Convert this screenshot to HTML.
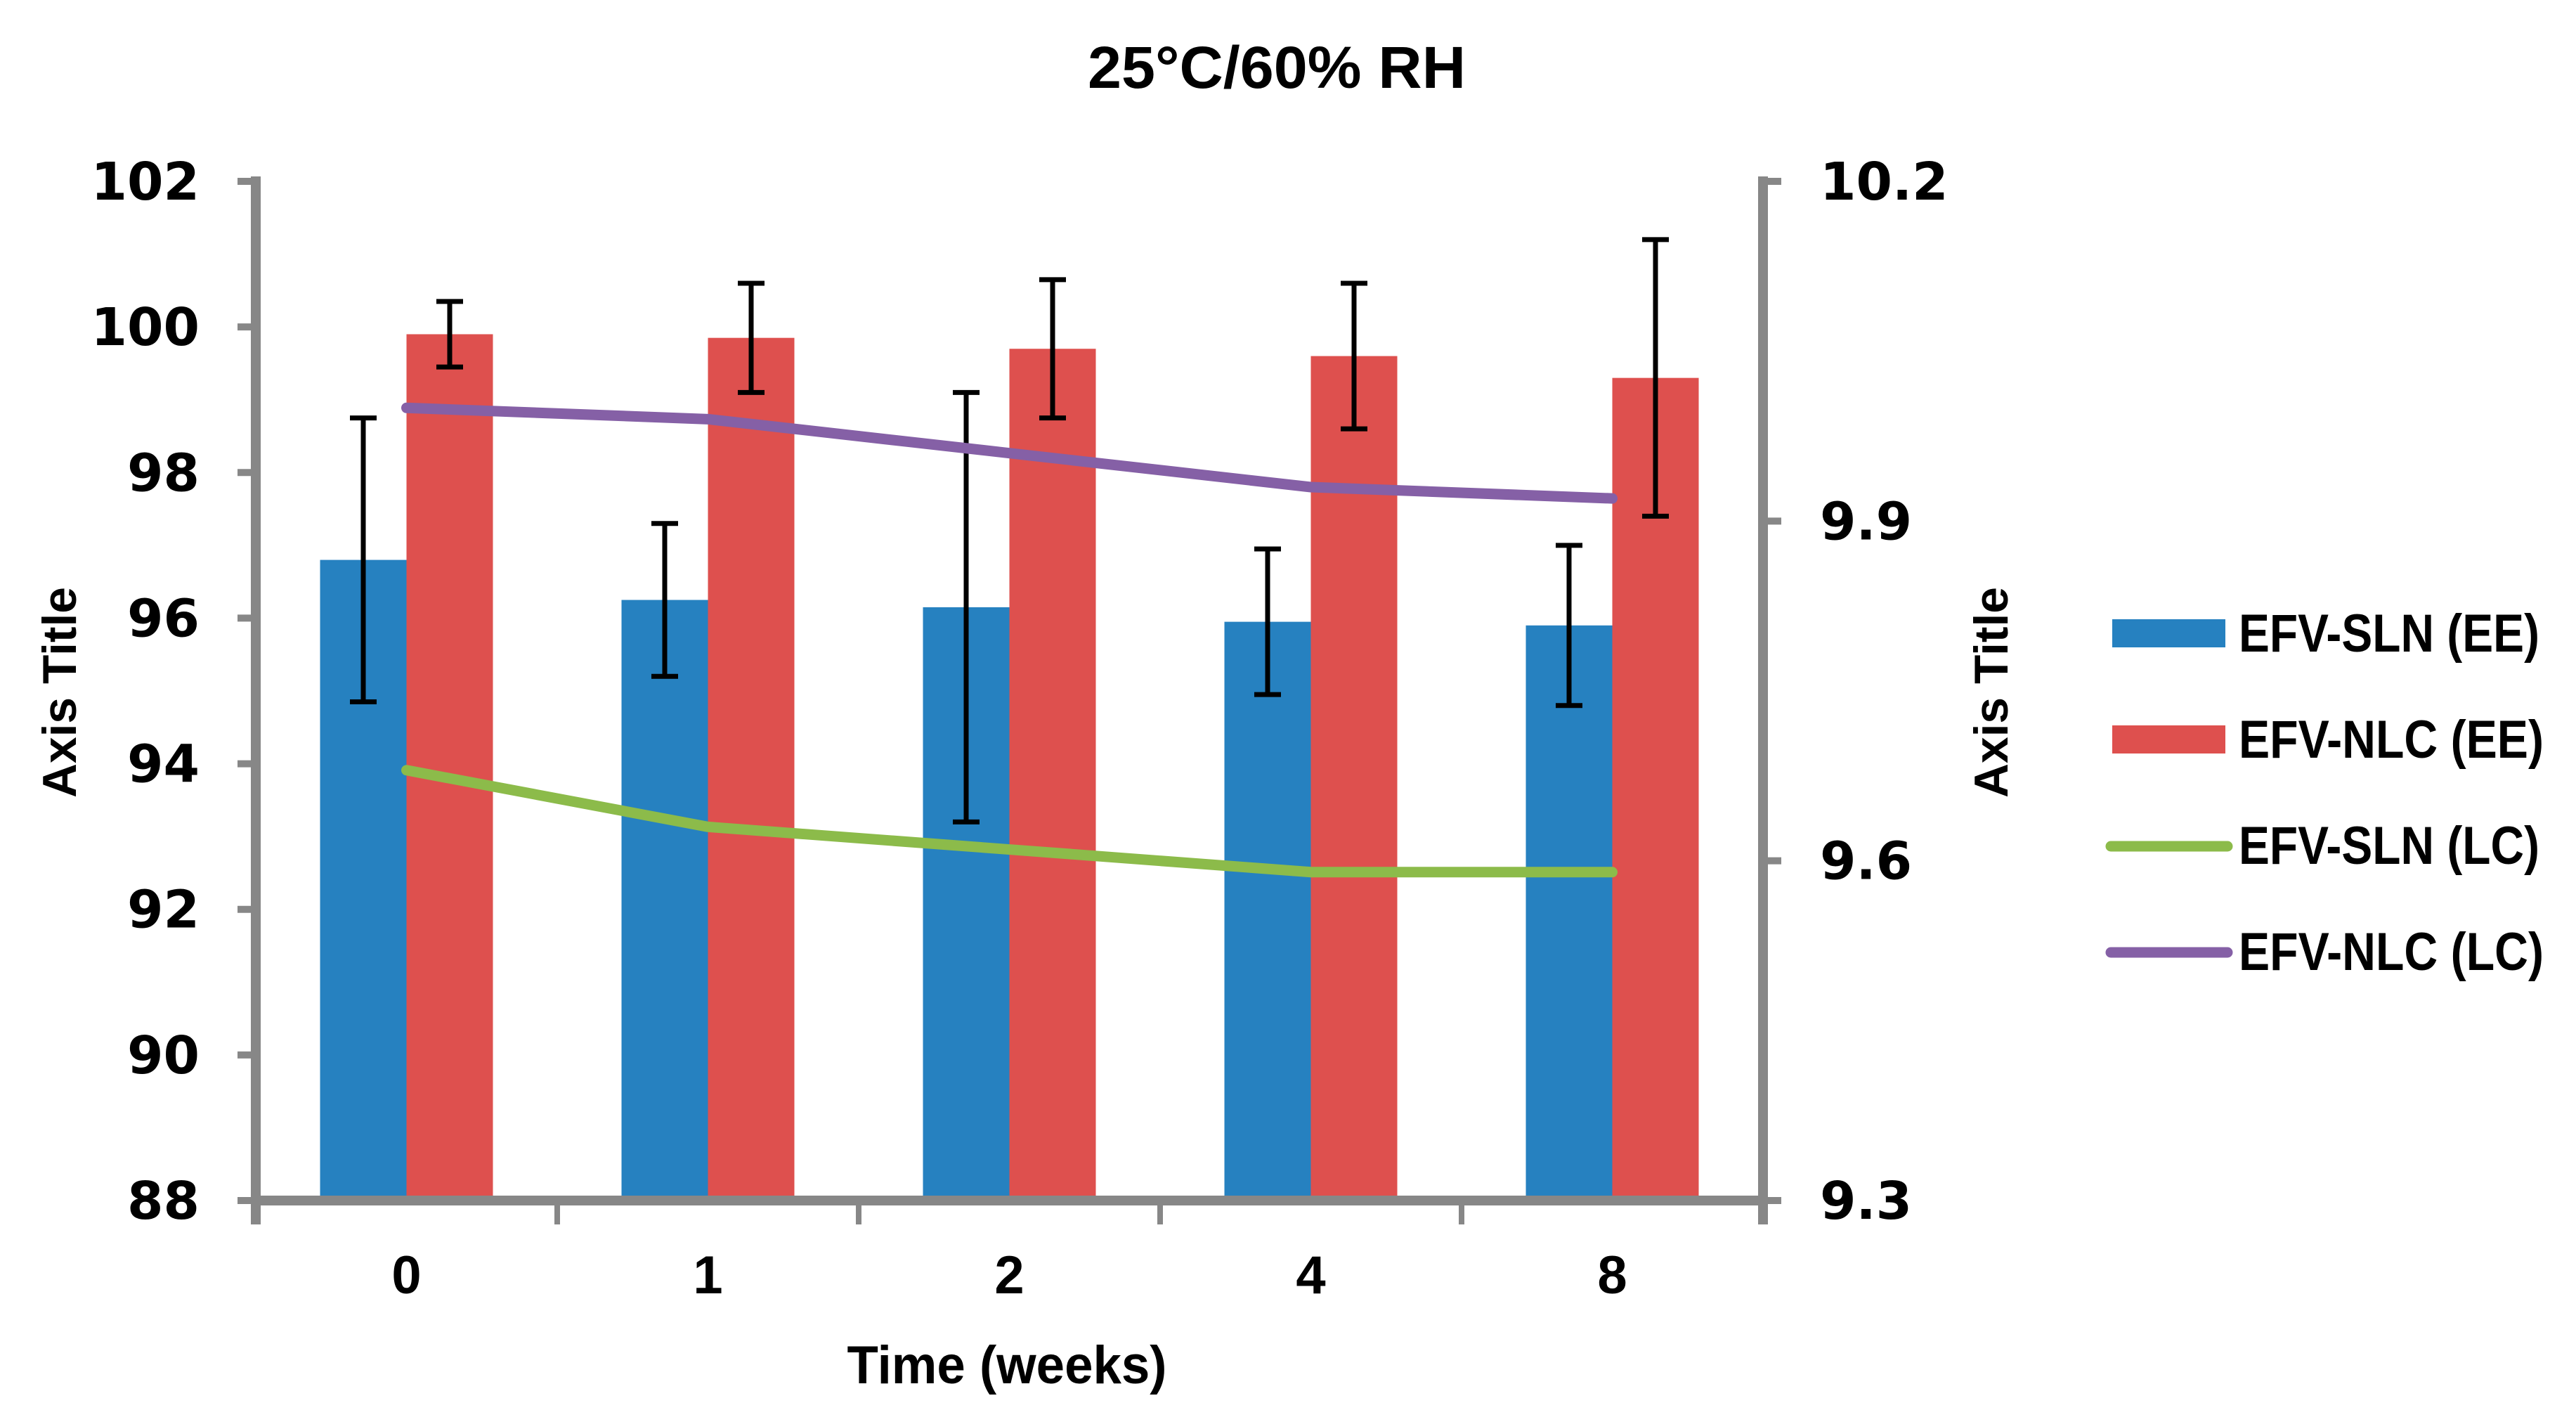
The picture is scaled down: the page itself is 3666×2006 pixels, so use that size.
<!DOCTYPE html>
<html><head><meta charset="utf-8"><style>
html,body{margin:0;padding:0;background:#fff;}
svg{display:block;font-family:"Liberation Sans",sans-serif;font-weight:bold;}
</style></head><body>
<svg id="chart" width="3666" height="2006" viewBox="0 0 3666 2006" xmlns="http://www.w3.org/2000/svg">
<text x="1817" y="125" font-size="84" text-anchor="middle" textLength="538" lengthAdjust="spacingAndGlyphs">25°C/60% RH</text>
<g id="grid"></g>
<g id="bars"></g>
<g id="lines"></g>
<text transform="translate(108,985) rotate(-90)" font-size="68" text-anchor="middle" textLength="300" lengthAdjust="spacingAndGlyphs">Axis Title</text>
<text transform="translate(2857,985) rotate(-90)" font-size="68" text-anchor="middle" textLength="300" lengthAdjust="spacingAndGlyphs">Axis Title</text>
<text x="1433" y="1968" font-size="76" text-anchor="middle" textLength="455" lengthAdjust="spacingAndGlyphs">Time (weeks)</text>
<g font-size="76">
<g><rect x="3006" y="881" width="161" height="40" fill="#2681c0"/><text x="3186" y="927" textLength="428" lengthAdjust="spacingAndGlyphs">EFV-SLN (EE)</text></g>
<g><rect x="3006" y="1032" width="161" height="40" fill="#de504e"/><text x="3186" y="1078" textLength="434" lengthAdjust="spacingAndGlyphs">EFV-NLC (EE)</text></g>
<g><line x1="3004" y1="1204" x2="3170" y2="1204" stroke="#8cbb4a" stroke-width="15" stroke-linecap="round"/><text x="3186" y="1229" textLength="428" lengthAdjust="spacingAndGlyphs">EFV-SLN (LC)</text></g>
<g><line x1="3004" y1="1355" x2="3170" y2="1355" stroke="#8560a6" stroke-width="15" stroke-linecap="round"/><text x="3186" y="1380" textLength="434" lengthAdjust="spacingAndGlyphs">EFV-NLC (LC)</text></g>
</g>
</svg>
<script>
const categories = ["0","1","2","4","8"];
const sln = [96.8, 96.25, 96.15, 95.95, 95.9];
const slnErr = [1.95, 1.05, 2.95, 1.0, 1.1];
const nlc = [99.9, 99.85, 99.7, 99.6, 99.3];
const nlcErr = [0.45, 0.75, 0.95, 1.0, 1.9];
const slnLC = [9.68, 9.63, 9.61, 9.59, 9.59];
const nlcLC = [10.0, 9.99, 9.96, 9.93, 9.92];
const leftTicks = [88, 90, 92, 94, 96, 98, 100, 102];
const rightTicks = [9.3, 9.6, 9.9, 10.2];

const NS = "http://www.w3.org/2000/svg";
const X0 = 364, X1 = 2509, YT = 258, YB = 1708;
const catW = (X1 - X0) / categories.length;
const yL = v => YB - (v - 88) / (102 - 88) * (YB - YT);
const yR = v => YB - (v - 9.3) / (10.2 - 9.3) * (YB - YT);
const xC = i => X0 + catW * (i + 0.5);
function mk(tag, attrs, parent) {
  const e = document.createElementNS(NS, tag);
  for (const k in attrs) e.setAttribute(k, attrs[k]);
  parent.appendChild(e);
  return e;
}
const grid = document.getElementById('grid');
const bars = document.getElementById('bars');
const lines = document.getElementById('lines');
const gray = "#878787";

let ax = mk('line', {x1: X0, y1: YT - 7, x2: X0, y2: YB + 34, stroke: gray, 'stroke-width': 14}, grid);


ax = mk('line', {x1: X1, y1: YT - 7, x2: X1, y2: YB + 34, stroke: gray, 'stroke-width': 14}, grid);



leftTicks.forEach(v => {
  const y = yL(v);
  mk('line', {x1: X0 - 26, y1: y, x2: X0, y2: y, stroke: gray, 'stroke-width': 10}, grid);
  const t = mk('text', {x: 284, y: y + 26, 'font-size': 74, 'text-anchor': 'end', 'font-family': '"DejaVu Sans", sans-serif'}, grid);
  t.textContent = v;
  
  
});
rightTicks.forEach(v => {
  const y = yR(v);
  mk('line', {x1: X1, y1: y, x2: X1 + 26, y2: y, stroke: gray, 'stroke-width': 10}, grid);
  const t = mk('text', {x: 2590, y: y + 26, 'font-size': 74, 'font-family': '"DejaVu Sans", sans-serif'}, grid);
  t.textContent = v.toFixed(1);
  
  
});
for (let i = 0; i <= categories.length; i++) {
  const x = X0 + catW * i;
  mk('line', {x1: x, y1: YB, x2: x, y2: YB + 34, stroke: gray, 'stroke-width': 8}, grid);
}
categories.forEach((c, i) => {
  const t = mk('text', {x: xC(i), y: 1840, 'font-size': 76, 'text-anchor': 'middle'}, grid);
  t.textContent = c;
  
  
});

const bw = 123;
function errBar(x, v, e) {
  const g = mk('g', {stroke: '#000', 'stroke-width': 7}, bars);
  
  
  mk('line', {x1: x, y1: yL(v + e), x2: x, y2: yL(v - e)}, g);
  mk('line', {x1: x - 19, y1: yL(v + e), x2: x + 19, y2: yL(v + e)}, g);
  mk('line', {x1: x - 19, y1: yL(v - e), x2: x + 19, y2: yL(v - e)}, g);
}
categories.forEach((c, i) => {
  const cx = xC(i);
  const b1 = mk('rect', {x: cx - bw, y: yL(sln[i]), width: bw, height: YB - yL(sln[i]), fill: '#2681c0'}, bars);
  
  
  const b2 = mk('rect', {x: cx, y: yL(nlc[i]), width: bw, height: YB - yL(nlc[i]), fill: '#de504e'}, bars);
  
  
});
const xa = mk('line', {x1: X0 - 7, y1: YB, x2: X1 + 7, y2: YB, stroke: gray, 'stroke-width': 14}, bars);


categories.forEach((c, i) => {
  errBar(xC(i) - bw / 2, sln[i], slnErr[i]);
  errBar(xC(i) + bw / 2, nlc[i], nlcErr[i]);
});

function path(vals, color, name) {
  const d = vals.map((v, i) => (i ? 'L' : 'M') + xC(i) + ' ' + yR(v)).join(' ');
  const p = mk('path', {d: d, fill: 'none', stroke: color, 'stroke-width': 15, 'stroke-linecap': 'round', 'stroke-linejoin': 'round'}, lines);
  
  
}
path(slnLC, '#8cbb4a', 'line-efv-sln-lc');
path(nlcLC, '#8560a6', 'line-efv-nlc-lc');
</script>
</body></html>
